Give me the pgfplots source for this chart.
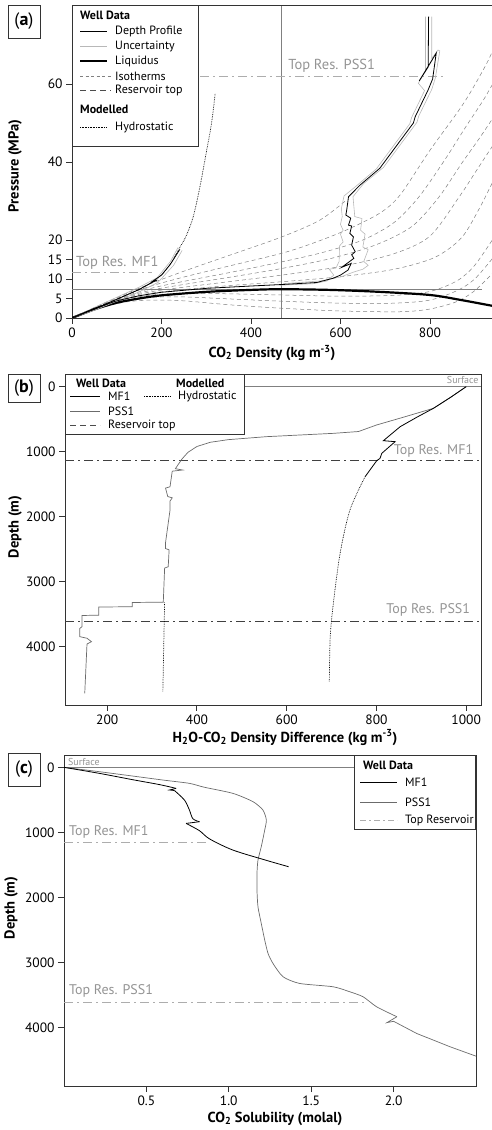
\documentclass[border=0pt]{standalone}
\usepackage{fontspec}
\setmainfont{PT Sans}
\usepackage{pgfplots}
\pgfplotsset{compat=1.18}
\definecolor{unc}{gray}{0.72}
\definecolor{iso}{gray}{0.5}
\definecolor{crit}{gray}{0.5}
\definecolor{pss}{gray}{0.42}
\definecolor{restxt}{gray}{0.58}
\definecolor{resln}{gray}{0.68}
\definecolor{frame}{gray}{0.2}
\tikzset{
 resdash/.style={dash pattern=on 9pt off 4pt on 2pt off 4pt},
 isodash/.style={dash pattern=on 4pt off 3pt},
}
\pgfplotsset{
 panel/.style={
  scale only axis, anchor=south west,
  tick align=outside, tick pos=left,
  /pgf/number format/assume math mode=true,
  /pgf/number format/1000 sep={},
  tick label style={font=\fontsize{13.5}{13.5}\selectfont},
  axis line style={line width=0.9pt, frame},
  major tick length=6pt,
  every tick/.style={frame, line width=0.9pt},
 },
}
\newcommand{\lblfont}{\bfseries\fontsize{14.5}{16}\selectfont}
\newcommand{\legfont}{\fontsize{12}{13}\selectfont}
\newcommand{\resfont}{\fontsize{14}{14}\selectfont}
\begin{document}
\begin{tikzpicture}
\useasboundingbox (0,0) rectangle (492pt,1130pt);
%================ (a)
\begin{axis}[panel, at={(72pt,812pt)}, width=420pt, height=313pt,
 xmin=0, xmax=938.7, ymin=0, ymax=80.26,
 axis x line*=bottom, axis y line*=left,
 xtick={0,200,400,600,800}, ytick={0,5,10,15,20,40,60}]
% isotherms
\addplot[iso, line width=0.5pt, isodash, smooth] coordinates {(0,0)(60,3.2)(120,6.2)(180,9.0)(250,12.0)(350,16.0)(469,20.8)(554,25.1)(614,30.3)};
\addplot[iso, line width=0.5pt, isodash, smooth] coordinates {(0,0)(60,3.1)(120,5.9)(180,8.3)(250,10.5)(350,13.3)(469,16.6)(539,19.2)(614,22.6)(688,26.9)(733,31.5)(800,43)(875,55)(927,65.3)(945,70)};
\addplot[iso, line width=0.5pt, isodash, smooth] coordinates {(0,0)(60,3.0)(120,5.6)(180,7.7)(250,9.4)(350,11.6)(469,14.4)(560,16.8)(650,20)(720,24.5)(775,31)(830,40)(880,49)(920,56)(945,61)};
\addplot[iso, line width=0.5pt, isodash, smooth] coordinates {(0,0)(60,2.9)(120,5.4)(180,7.2)(250,8.6)(350,10.4)(469,12.7)(580,15.3)(680,18.8)(760,23.5)(820,31)(870,39.5)(910,46)(945,52)};
\addplot[iso, line width=0.5pt, isodash, smooth] coordinates {(0,0)(60,2.9)(120,5.2)(180,6.8)(250,7.9)(350,9.3)(469,11.0)(600,13.2)(720,16.5)(800,21)(865,31)(905,38)(945,45)};
\addplot[iso, line width=0.5pt, isodash, smooth] coordinates {(0,0)(60,2.8)(120,5.0)(180,6.4)(250,7.3)(350,8.3)(469,9.3)(600,10.6)(720,12.5)(810,15.5)(870,20.5)(910,28)(945,36)};
\addplot[iso, line width=0.5pt, isodash, smooth] coordinates {(0,0)(60,2.7)(120,4.8)(180,5.9)(250,6.3)(350,6.2)(469,5.9)(600,5.6)(720,5.8)(800,6.8)(860,9.5)(900,13.5)(945,21)};
\addplot[iso, line width=0.5pt, isodash, smooth] coordinates {(0,0)(60,2.6)(120,4.5)(180,5.3)(250,5.4)(350,4.9)(469,4.3)(600,3.8)(720,3.8)(800,4.6)(860,7)(900,10)(945,16)};
\addplot[iso, line width=0.5pt, isodash, smooth] coordinates {(0,0)(60,2.5)(120,4.1)(180,4.6)(250,4.4)(350,3.4)(469,2.5)(600,1.8)(733,1.6)(800,2.3)(860,4.2)(900,7)(945,12)};
% critical point lines
\addplot[crit, line width=0.7pt] coordinates {(467,0)(467,80.26)};
\addplot[crit, line width=0.7pt] coordinates {(0,7.38)(916,7.38)};
% reservoir tops
\addplot[resln, line width=0.8pt, resdash] coordinates {(0,11.6)(178,11.6)};
\addplot[resln, line width=0.8pt, resdash] coordinates {(286,62)(830,62)};
% liquidus
\addplot[black, line width=2.2pt, smooth] coordinates {(0,0)(50,2.2)(100,3.9)(150,5.0)(200,5.8)(300,6.7)(400,7.2)(467,7.38)(577,7.2)(688,6.7)(800,5.9)(870,4.6)(945,3.0)};
% uncertainty PSS1
\addplot[unc, line width=0.6pt] coordinates {(472,8.8)(555,9.5)(600,10.5)(630,11.8)(650,12.5)(662,13.5)(652,14.5)(662,17.5)(650,18.2)(655,21.5)(645,22.5)(648,25.5)(632,26)(628,31.1)(652,34.5)(696,38.6)(771,50.2)(775,51.8)(804,58.6)(812,61.5)(822,68.5)(818,68.7)(804,66.5)(804,77.3)};
\addplot[unc, line width=0.6pt] coordinates {(465,8.4)(540,8.8)(570,9.5)(585,11)(575,12.5)(590,12.8)(597,14.5)(598,18.5)(606,19.5)(600,21.5)(606,22.5)(600,24)(604,26)(602,28)(608,31.3)(636,33.9)(680,38.2)(755,49.8)(759,51.4)(788,58.3)(774,60.2)(806,66.3)(790,63.2)(790,77.3)};
% uncertainty MF1
\addplot[unc, line width=0.6pt] coordinates {(0,0)(50,2.7)(100,5.3)(150,7.9)(190,10.3)(200,11.7)(220,14.5)(237,18.1)};
\addplot[unc, line width=0.6pt] coordinates {(0,0)(50,2.0)(100,4.3)(150,6.7)(192,9.1)(207,11)(227,13.5)(246,17.3)};
% hydrostatic
\addplot[black, line width=0.7pt, densely dotted, smooth] coordinates {(0,0)(60,2.9)(120,5.8)(160,7.9)(190,10)(215,13)(238,17.5)(255,21)(271,26)(286,33.7)(301,43)(312,50)(320,57.6)};
% depth profiles
\addplot[black, line width=0.8pt] coordinates {(0,0)(50,2.3)(100,4.8)(150,7.3)(175,8.9)(190,9.7)(180,9.4)(200,11.0)(220,13.8)(241,17.6)};
\addplot[black, line width=0.8pt] coordinates {(0,0)(50,2.5)(100,4.4)(150,5.7)(200,6.6)(300,7.6)(400,8.2)(472,8.6)(547,9.1)(584,10.2)(600,11.0)(617,12.3)(624,14.0)(603,13.0)(630,15.3)(625,16.2)(633,17.0)(625,18.7)(629,20.8)(621,21.7)(625,23.6)(618,23.8)(623,25.6)(612,26.4)(614,27.7)(618,31.1)(644,34.1)(688,38.4)(763,50)(767,51.6)(796,58.5)(806,61.3)(814,67.9)(776,60.8)(796,64.4)(797,77.3)};
\node[restxt, anchor=west, font=\fontsize{14.5}{14.5}\selectfont, inner sep=0pt] at (axis cs:9,14.1) {Top Res. MF1};
\node[restxt, anchor=west, font=\fontsize{14.5}{14.5}\selectfont, inner sep=0pt] at (axis cs:483,64.6) {Top Res. PSS1};
\end{axis}
%================ (b)
\begin{axis}[panel, at={(65pt,425pt)}, width=416pt, height=331pt,
 xmin=106, xmax=1033, ymin=-195, ymax=4897, y dir=reverse,
 xtick={200,400,600,800,1000}, ytick={0,1000,2000,3000,4000}]
\addplot[crit, line width=0.7pt] coordinates {(106,0)(1033,0)};
\addplot[black!75, line width=0.8pt, resdash] coordinates {(106,1128)(1033,1128)};
\addplot[black!75, line width=0.8pt, resdash] coordinates {(106,3605)(1033,3605)};
\addplot[pss, line width=0.7pt] coordinates {(1000,0)(965,165)(927,333)(860,470)(800,590)(760,690)(704,718)(555,769)(470,815)(430,855)(400,920)(380,1010)(367,1110)(358,1200)(352,1262)(368,1282)(345,1300)(340,1540)(330,1560)(335,1690)(345,1710)(340,1760)(340,1900)(330,2400)(330,2490)(338,2510)(336,2770)(328,2790)(325,3315)(256,3320)(256,3385)(181,3390)(181,3515)(144,3520)(144,3692)(139,3718)(139,3846)(155,3870)(165,3923)(155,3959)(150,4718)};
\addplot[black, line width=0.7pt, densely dotted, smooth] coordinates {(774.7,1385)(741,1897)(719,2564)(704,3333)(697,3846)(695,4538)};
\addplot[black, line width=0.7pt, densely dotted] coordinates {(328,3318)(326,4000)(324,4700)};
\addplot[black, line width=0.8pt] coordinates {(1000,0)(965,165)(927,333)(890,470)(853,615)(815.5,831)(841.6,846)(811.8,1026)(808,1103)(800.7,1138)(774.7,1385)};
\node[restxt, anchor=east, font=\resfont, inner sep=0pt] at (axis cs:1016,989) {Top Res. MF1};
\node[restxt, anchor=east, font=\resfont, inner sep=0pt] at (axis cs:1009,3436) {Top Res. PSS1};
\node[restxt, anchor=east, font=\fontsize{10}{10}\selectfont, inner sep=0pt] at (axis cs:1028,-95) {Surface};
\end{axis}
%================ (c)
\begin{axis}[panel, at={(64pt,44pt)}, width=412pt, height=331pt,
 xmin=0, xmax=2.5, ymin=-190, ymax=4900, y dir=reverse,
 xtick={0.5,1.0,1.5,2.0}, xticklabels={0.5,1.0,1.5,2.0}, ytick={0,1000,2000,3000,4000}]
\addplot[crit, line width=0.7pt] coordinates {(0,0)(2.5,0)};
\addplot[resln, line width=0.8pt, resdash] coordinates {(0,1154)(0.883,1154)};
\addplot[resln, line width=0.8pt, resdash] coordinates {(0,3610)(1.826,3610)};
\addplot[pss, line width=0.7pt, smooth, tension=0.4] coordinates {(0,0)(0.2,62)(0.4,128)(0.6,195)(0.761,246)(0.85,305)(1.025,400)(1.147,528)(1.207,656)(1.228,810)(1.218,964)(1.197,1220)(1.177,1426)(1.171,1631)(1.171,1887)(1.177,2144)(1.197,2400)(1.218,2656)(1.238,2861)(1.268,3015)(1.329,3220)(1.43,3323)(1.633,3374)(1.734,3451)(1.815,3528)(1.897,3682)(2.02,3835)};
\addplot[pss, line width=0.7pt] coordinates {(2.02,3835)(1.96,3925)(2.0,3905)(2.14,4092)(2.343,4297)(2.5,4441)};
\addplot[black, line width=0.8pt, smooth, tension=0.5] coordinates {(0,0)(0.214,92)(0.417,190)(0.579,265)(0.68,323)};
\addplot[black, line width=0.8pt] coordinates {(0.68,323)(0.64,348)(0.67,356)};
\addplot[black, line width=0.8pt, smooth, tension=0.5] coordinates {(0.67,356)(0.731,503)(0.761,656)(0.782,790)(0.822,836)};
\addplot[black, line width=0.8pt] coordinates {(0.822,836)(0.741,862)};
\addplot[black, line width=0.8pt, smooth, tension=0.5] coordinates {(0.741,862)(0.822,974)(0.883,1100)(1.025,1272)(1.228,1430)(1.363,1528)};
\node[restxt, anchor=west, font=\resfont, inner sep=0pt] at (axis cs:0.03,991) {Top Res. MF1};
\node[restxt, anchor=west, font=\resfont, inner sep=0pt] at (axis cs:0.03,3437) {Top Res. PSS1};
\node[restxt, anchor=west, font=\fontsize{10}{10}\selectfont, inner sep=0pt] at (axis cs:0.024,-86) {Surface};
\end{axis}
%================ decorations
\begin{scope}[x=1pt,y=-1pt,yshift=1130pt]
\draw[frame, line width=0.9pt] (72,5) -- (492,5);
% axis labels
\node[font=\lblfont] at (272,353) {CO\textsubscript{2} Density (kg m\textsuperscript{-3})};
\node[font=\lblfont, rotate=90] at (15,166) {Pressure (MPa)};
\node[font=\lblfont] at (285,737.5) {H\textsubscript{2}O-CO\textsubscript{2} Density Difference (kg m\textsuperscript{-3})};
\node[font=\lblfont, rotate=90] at (15,527) {Depth (m)};
\node[font=\lblfont] at (275,1119) {CO\textsubscript{2} Solubility (molal)};
\node[font=\lblfont, rotate=90] at (11,908) {Depth (m)};
% panel letters
\draw[frame, line width=0.9pt] (8,5) rectangle (40,38);
\node[font=\fontsize{18}{18}\selectfont] at (24,21.5) {(\textbf{a})};
\draw[frame, line width=0.9pt] (8,374) rectangle (40,402);
\node[font=\fontsize{18}{18}\selectfont] at (24,388) {(\textbf{b})};
\draw[frame, line width=0.9pt] (8,753) rectangle (40,786);
\node[font=\fontsize{18}{18}\selectfont] at (24,769.5) {(\textbf{c})};
% legend (a)
\draw[frame, line width=0.9pt, fill=white] (72,5) rectangle (198,146);
\node[anchor=west, font=\bfseries\legfont, inner sep=0pt] at (80,15) {Well Data};
\draw[black, line width=0.8pt] (80,31) -- (107,31); \node[anchor=west, font=\legfont, inner sep=0pt] at (115,31) {Depth Profile};
\draw[unc, line width=0.8pt] (80,46) -- (107,46); \node[anchor=west, font=\legfont, inner sep=0pt] at (115,46) {Uncertainty};
\draw[black, line width=2.2pt] (80,61) -- (107,61); \node[anchor=west, font=\legfont, inner sep=0pt] at (115,61) {Liquidus};
\draw[iso, line width=0.5pt, dash pattern=on 3pt off 2.5pt] (80,76) -- (111,76); \node[anchor=west, font=\legfont, inner sep=0pt] at (115,76) {Isotherms};
\draw[black!70, line width=0.6pt, dash pattern=on 6pt off 4pt] (80,90) -- (111,90); \node[anchor=west, font=\legfont, inner sep=0pt] at (115,90) {Reservoir top};
\node[anchor=west, font=\bfseries\legfont, inner sep=0pt] at (80,109.5) {Modelled};
\draw[black, line width=0.6pt, densely dotted] (80,127) -- (107,127); \node[anchor=west, font=\legfont, inner sep=0pt] at (115,127) {Hydrostatic};
% legend (b)
\draw[frame, line width=0.9pt, fill=white] (65,374) rectangle (244.3,434.3);
\node[anchor=west, font=\bfseries\legfont, inner sep=0pt] at (76,383.5) {Well Data};
\node[anchor=west, font=\bfseries\legfont, inner sep=0pt] at (176,383.5) {Modelled};
\draw[black, line width=0.8pt] (70,396) -- (100,396); \node[anchor=west, font=\legfont, inner sep=0pt] at (108,396) {MF1};
\draw[pss, line width=0.8pt] (70,411) -- (100,411); \node[anchor=west, font=\legfont, inner sep=0pt] at (108,411) {PSS1};
\draw[black!70, line width=0.6pt, dash pattern=on 6pt off 4pt] (70,425.5) -- (100,425.5); \node[anchor=west, font=\legfont, inner sep=0pt] at (108,425.5) {Reservoir top};
\draw[black, line width=0.6pt, densely dotted] (144,396) -- (171,396); \node[anchor=west, font=\legfont, inner sep=0pt] at (178,396) {Hydrostatic};
% legend (c)
\draw[frame, line width=0.9pt, fill=white] (354.3,755) rectangle (475.7,829.3);
\node[anchor=west, font=\bfseries\legfont, inner sep=0pt] at (363,765) {Well Data};
\draw[black, line width=0.8pt] (360,782) -- (397,782); \node[anchor=west, font=\legfont, inner sep=0pt] at (405,782) {MF1};
\draw[pss, line width=0.8pt] (360,802.3) -- (397,802.3); \node[anchor=west, font=\legfont, inner sep=0pt] at (405,802.3) {PSS1};
\draw[resln, line width=0.8pt, dash pattern=on 6pt off 3pt on 2pt off 3pt] (360,820) -- (397,820); \node[anchor=west, font=\legfont, inner sep=0pt] at (405,820) {Top Reservoir};
\end{scope}
\end{tikzpicture}
\end{document}
